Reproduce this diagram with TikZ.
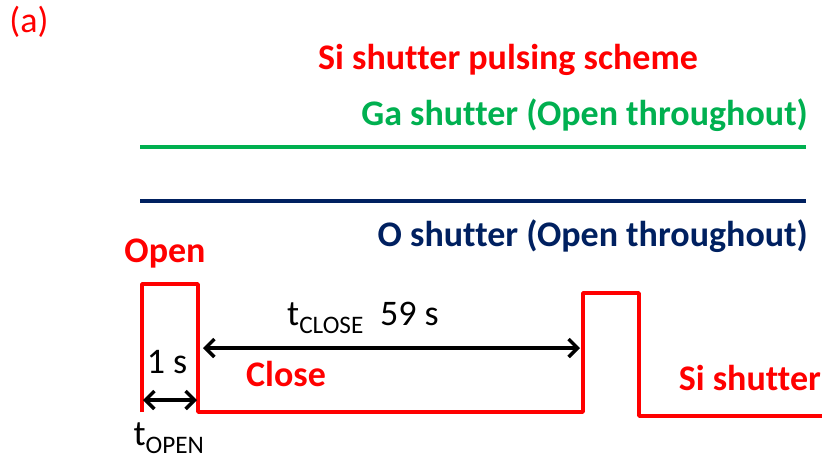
\documentclass[tikz,border=0pt]{standalone}
\usepackage{fontspec}
\setmainfont{Carlito}[Ligatures=NoCommon]
\usetikzlibrary{arrows.meta}
\definecolor{sired}{RGB}{255,0,0}
\definecolor{gagreen}{RGB}{0,176,80}
\definecolor{onavy}{RGB}{0,32,96}
\tikzset{
  lbl/.style={inner sep=0pt, font=\fontsize{36}{40}\selectfont\bfseries},
  plain/.style={inner sep=0pt, font=\fontsize{36}{40}\selectfont, text=black},
  trace/.style={line width=3.5pt, sired, line join=round},
  beam/.style={line width=3.5pt},
  span/.style={line width=3.5pt, black, {Straight Barb[length=9pt,width=18pt,line width=3.5pt]}-{Straight Barb[length=9pt,width=18pt,line width=3.5pt]}}
}
\begin{document}
\begin{tikzpicture}[x=1pt,y=-1pt]
\useasboundingbox (0,0) rectangle (826,459);
% panel tag and title
\node[inner sep=0pt, text=sired, font=\fontsize{36}{40}\selectfont] (tag) at (29,22) {(a)};
\node[lbl, text=sired] (title) at (508,60) {Si shutter pulsing scheme};
% Ga shutter line
\node[lbl, text=gagreen, anchor=east] (galbl) at (808,115) {Ga shutter (Open throughout)};
\coordinate (ga0) at (140,147);
\coordinate (ga1) at (806,147);
\draw[beam, gagreen] (ga0) -- (ga1);
% O shutter line
\coordinate (o0) at (140,201);
\coordinate (o1) at (806,201);
\draw[beam, onavy] (o0) -- (o1);
\node[lbl, text=onavy, anchor=east] (olbl) at (808,236) {O shutter (Open throughout)};
% Si shutter trace
\coordinate (s0) at (142,412);
\coordinate (s1) at (142,284);
\coordinate (s2) at (198,284);
\coordinate (s3) at (198,412);
\coordinate (s4) at (583,412);
\coordinate (s5) at (583,293);
\coordinate (s6) at (639,293);
\coordinate (s7) at (639,416);
\coordinate (s8) at (822,416);
\draw[trace] (s0) -- (s1) -- (s2) -- (s3) -- (s4) -- (s5) -- (s6) -- (s7) -- (s8);
\node[lbl, text=sired] (openlbl) at (165,254) {Open};
\node[lbl, text=sired] (closelbl) at (286,374) {Close};
\node[lbl, text=sired, anchor=east] (silbl) at (821,378) {Si shutter};
% durations
\coordinate (c0) at (203,348);
\coordinate (c1) at (580,348);
\draw[span] (c0) -- (c1);
\node[plain] (tclose) at (363,318) {t\textsubscript{CLOSE}\hspace{0.45em}59 s};
\coordinate (p0) at (143,400);
\coordinate (p1) at (197,400);
\draw[span] (p0) -- (p1);
\node[plain] (onesec) at (167,362) {1 s};
\node[plain] (topen) at (169,438) {t\textsubscript{OPEN}};
\end{tikzpicture}
\end{document}
